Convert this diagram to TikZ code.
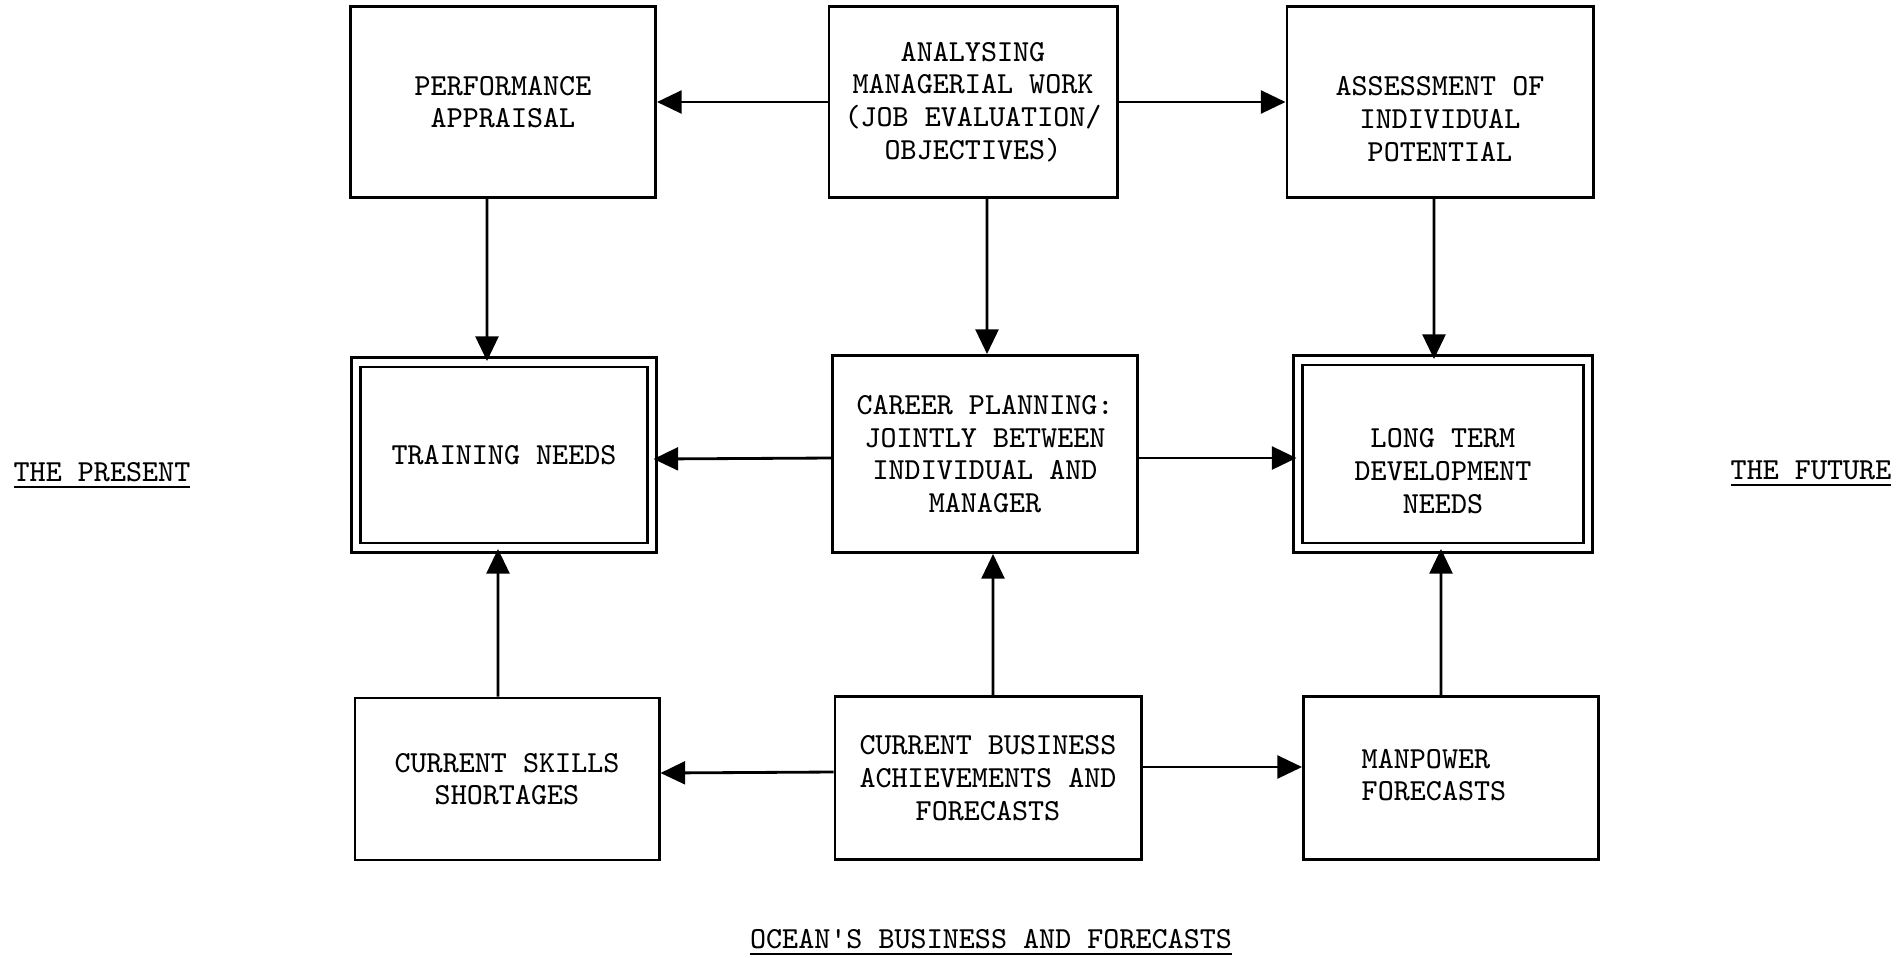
\documentclass[tikz,border=0pt]{standalone}
\usetikzlibrary{arrows.meta}
\begin{document}
\begin{tikzpicture}[x=0.01cm,y=-0.01cm,
  >={Triangle[length=7pt,width=6.5pt]},
  plain/.style={rectangle,draw=black,thick,align=center,
    inner sep=0,font=\ttfamily\fontsize{8.7}{9.3}\selectfont},
  need/.style={rectangle,draw=black,thick,align=center,
    inner sep=0,font=\ttfamily\fontsize{8.7}{9.3}\selectfont,
    double,double distance=1.8pt},
  side/.style={align=center,font=\ttfamily\fontsize{8.7}{9.3}\selectfont}]
  \useasboundingbox (0,0) rectangle (1904,957);
  \node[plain,minimum width=3.05cm,minimum height=1.91cm] (PA) at (503,102) {PERFORMANCE\\APPRAISAL};
  \node[plain,minimum width=2.88cm,minimum height=1.91cm] (AN) at (973,102) {ANALYSING\\MANAGERIAL WORK\\(JOB EVALUATION/\\OBJECTIVES)};
  \node[plain,minimum width=3.06cm,minimum height=1.91cm] (AS) at (1440,102) {};
  \node[side] (AStext) at ([yshift=-0.17cm]AS.center) {ASSESSMENT OF\\INDIVIDUAL\\POTENTIAL};
  \node[need,minimum width=2.96cm,minimum height=1.85cm] (TN) at (504,455) {TRAINING NEEDS};
  \node[plain,minimum width=3.05cm,minimum height=1.97cm] (CP) at (985,454) {CAREER PLANNING:\\JOINTLY BETWEEN\\INDIVIDUAL AND\\MANAGER};
  \node[need,minimum width=2.90cm,minimum height=1.87cm] (LT) at (1443,454) {};
  \node[side] (LTtext) at ([yshift=-0.17cm]LT.center) {LONG TERM\\DEVELOPMENT\\NEEDS};
  \node[plain,minimum width=3.04cm,minimum height=1.62cm] (CS) at (507,779) {CURRENT SKILLS\\SHORTAGES};
  \node[plain,minimum width=3.06cm,minimum height=1.63cm] (CB) at (988,778) {CURRENT BUSINESS\\ACHIEVEMENTS AND\\FORECASTS};
  \node[plain,minimum width=2.95cm,minimum height=1.63cm] (MF) at (1451,778) {\hspace*{-0.34cm}\begin{tabular}{@{}l@{}}MANPOWER\\FORECASTS\end{tabular}};
  \draw[thick,->] (AN) -- (PA);
  \draw[thick,->] (AN) -- (AS);
  \draw[thick,->] ([yshift=-0.04cm]CP.west) -- ([yshift=-0.04cm]TN.east);
  \draw[thick,->] ([yshift=-0.04cm]CP.east) -- ([yshift=-0.04cm]LT.west);
  \draw[thick,->] ([yshift=0.06cm]CB.west) -- ([yshift=0.06cm]CS.east);
  \draw[thick,->] ([yshift=0.11cm]CB.east) -- ([yshift=0.11cm]MF.west);
  \draw[thick,->] ([xshift=-0.16cm]PA.south) -- ([xshift=-0.17cm]TN.north);
  \draw[thick,->] ([xshift=0.14cm]AN.south) -- ([xshift=0.02cm]CP.north);
  \draw[thick,->] ([xshift=-0.06cm]AS.south) -- ([xshift=-0.09cm]LT.north);
  \draw[thick,->] ([xshift=-0.09cm]CS.north) -- ([xshift=-0.06cm]TN.south);
  \draw[thick,->] ([xshift=0.05cm]CB.north) -- ([xshift=0.08cm]CP.south);
  \draw[thick,->] ([xshift=-0.10cm]MF.north) -- ([xshift=-0.02cm]LT.south);
  \node[side] (present) at (102,476) {\underline{THE PRESENT}};
  \node[side] (future) at (1811,474) {\underline{THE FUTURE}};
  \node[side] (ocean) at (991,943) {\underline{OCEAN'S BUSINESS AND FORECASTS}};
\end{tikzpicture}
\end{document}
